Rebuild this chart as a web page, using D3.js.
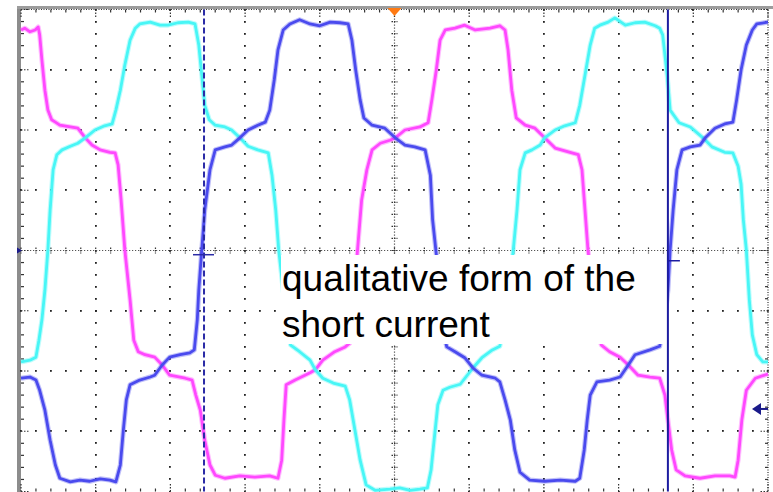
<!DOCTYPE html>
<html>
<head>
<meta charset="utf-8">
<script src="https://cdn.jsdelivr.net/npm/d3@7"></script>
<style>
  html, body { margin: 0; padding: 0; background: #fff; }
  svg { display: block; }
</style>
</head>
<body>
<div id="scope"></div>
<script>
// time in screen divisions (10 across), level in divisions (0 = centre line)
const magentaTrace = [
  [0.00,3.66],[0.05,3.69],[0.12,3.63],[0.19,3.66],[0.23,3.71],[0.25,3.58],[0.28,3.16],[0.32,2.66],[0.36,2.33],
  [0.41,2.17],[0.46,2.13],[0.52,2.08],[0.66,2.05],[0.76,2.03],[0.86,1.87],[0.95,1.75],[1.06,1.67],[1.19,1.63],
  [1.26,1.62],[1.30,1.42],[1.34,0.84],[1.39,0.01],[1.46,-0.82],[1.51,-1.49],[1.57,-1.68],[1.66,-1.73],[1.79,-1.77],
  [1.89,-1.90],[1.99,-2.07],[2.20,-2.12],[2.29,-2.15],[2.34,-2.40],[2.40,-2.65],[2.46,-3.15],[2.53,-3.56],[2.60,-3.73],
  [2.73,-3.78],[2.93,-3.74],[3.13,-3.76],[3.33,-3.74],[3.44,-3.78],[3.49,-3.48],[3.52,-2.81],[3.55,-2.23],[3.67,-2.15],
  [3.87,-2.03],[3.94,-1.98],[4.04,-1.82],[4.20,-1.68],[4.34,-1.60],[4.40,-1.54],[4.45,-0.82],[4.50,-0.07],[4.56,0.84],
  [4.63,1.34],[4.70,1.67],[4.81,1.78],[4.94,1.83],[5.01,1.87],[5.14,2.00],[5.34,2.05],[5.45,2.12],[5.50,2.50],
  [5.56,3.00],[5.61,3.49],[5.68,3.66],[5.81,3.69],[5.94,3.74],[6.08,3.66],[6.28,3.69],[6.41,3.73],[6.48,3.66],
  [6.52,3.33],[6.57,2.66],[6.63,2.20],[6.75,2.08],[6.88,2.03],[7.01,1.87],[7.15,1.70],[7.35,1.63],[7.46,1.59],
  [7.51,1.34],[7.56,0.51],[7.59,0.01],[7.65,-0.66],[7.70,-1.32],[7.77,-1.57],[7.88,-1.68],[8.02,-1.77],[8.13,-1.90],
  [8.26,-2.07],[8.42,-2.10],[8.55,-2.12],[8.62,-2.40],[8.66,-2.81],[8.71,-3.31],[8.77,-3.64],[8.89,-3.74],[9.09,-3.78],
  [9.29,-3.74],[9.49,-3.74],[9.56,-3.76],[9.60,-3.48],[9.65,-2.81],[9.71,-2.32],[9.83,-2.12],[10.00,-2.05]
];

const cyanTrace = [
  [0.00,-1.85],[0.12,-1.82],[0.20,-1.77],[0.24,-1.49],[0.28,-1.15],[0.32,-0.66],[0.36,0.01],[0.39,0.67],[0.43,1.34],
  [0.48,1.59],[0.55,1.67],[0.66,1.73],[0.76,1.78],[0.86,1.87],[0.99,2.00],[1.12,2.07],[1.22,2.10],[1.27,2.33],
  [1.33,2.66],[1.39,3.08],[1.46,3.49],[1.53,3.69],[1.59,3.76],[1.73,3.79],[1.86,3.74],[1.97,3.74],[2.10,3.78],
  [2.24,3.79],[2.33,3.76],[2.38,3.41],[2.42,2.91],[2.46,2.41],[2.52,2.17],[2.60,2.08],[2.73,2.05],[2.82,2.00],
  [2.93,1.87],[3.04,1.73],[3.17,1.67],[3.31,1.62],[3.36,1.25],[3.41,0.67],[3.45,0.01],[3.51,-0.66],[3.56,-1.32],
  [3.61,-1.57],[3.73,-1.68],[3.87,-1.82],[3.94,-1.98],[4.04,-2.12],[4.18,-2.20],[4.34,-2.25],[4.40,-2.48],[4.47,-2.98],
  [4.54,-3.48],[4.62,-3.89],[4.74,-3.98],[4.94,-3.96],[5.07,-3.94],[5.21,-3.98],[5.34,-3.96],[5.44,-3.94],[5.49,-3.64],
  [5.53,-3.15],[5.58,-2.56],[5.65,-2.32],[5.74,-2.27],[5.88,-2.22],[6.05,-1.95],[6.17,-1.78],[6.31,-1.65],[6.41,-1.59],
  [6.48,-1.15],[6.53,-0.66],[6.59,0.01],[6.64,0.67],[6.68,1.34],[6.75,1.62],[6.84,1.67],[6.95,1.75],[7.01,1.87],
  [7.15,2.00],[7.28,2.07],[7.42,2.12],[7.48,2.41],[7.55,2.91],[7.62,3.41],[7.68,3.69],[7.75,3.74],[7.86,3.79],
  [7.95,3.86],[8.09,3.74],[8.22,3.78],[8.35,3.79],[8.49,3.73],[8.55,3.69],[8.59,3.58],[8.65,2.91],[8.69,2.33],
  [8.81,2.12],[8.96,2.05],[9.13,1.87],[9.25,1.72],[9.42,1.63],[9.53,1.62],[9.60,1.40],[9.64,1.10],[9.67,0.51],
  [9.71,0.01],[9.75,-0.82],[9.79,-1.40],[9.85,-1.73],[9.93,-1.85],[10.00,-1.85]
];

const blueTrace = [
  [0.00,-2.12],[0.12,-2.10],[0.20,-2.15],[0.25,-2.32],[0.32,-2.65],[0.39,-3.15],[0.46,-3.56],[0.52,-3.78],[0.66,-3.84],
  [0.79,-3.81],[0.92,-3.83],[1.06,-3.79],[1.19,-3.81],[1.27,-3.84],[1.33,-3.56],[1.37,-2.98],[1.41,-2.48],[1.46,-2.23],
  [1.59,-2.15],[1.73,-2.10],[1.79,-2.07],[1.89,-1.90],[1.99,-1.77],[2.13,-1.73],[2.26,-1.70],[2.32,-1.65],[2.36,-1.15],
  [2.38,-0.66],[2.42,0.01],[2.46,0.67],[2.53,1.34],[2.60,1.67],[2.73,1.72],[2.82,1.75],[2.93,1.87],[3.04,2.00],
  [3.17,2.08],[3.27,2.13],[3.33,2.33],[3.39,2.83],[3.44,3.33],[3.51,3.66],[3.60,3.76],[3.73,3.83],[3.87,3.76],
  [4.00,3.73],[4.14,3.79],[4.27,3.78],[4.38,3.76],[4.43,3.49],[4.48,3.00],[4.54,2.50],[4.59,2.20],[4.70,2.08],
  [4.87,2.03],[5.01,1.87],[5.14,1.75],[5.27,1.72],[5.41,1.67],[5.48,1.25],[5.51,0.51],[5.56,-0.07],[5.61,-1.15],
  [5.70,-1.60],[5.81,-1.68],[5.94,-1.78],[6.05,-1.95],[6.17,-2.07],[6.35,-2.12],[6.41,-2.18],[6.48,-2.48],[6.55,-2.81],
  [6.61,-3.31],[6.68,-3.68],[6.81,-3.81],[7.01,-3.83],[7.22,-3.81],[7.42,-3.83],[7.48,-3.78],[7.54,-3.31],[7.58,-2.81],
  [7.62,-2.40],[7.71,-2.18],[7.88,-2.15],[8.02,-2.10],[8.13,-1.90],[8.22,-1.73],[8.42,-1.65],[8.55,-1.59],[8.62,-1.15],
  [8.66,-0.66],[8.69,0.01],[8.73,0.67],[8.78,1.34],[8.85,1.67],[8.96,1.72],[9.09,1.75],[9.16,1.87],[9.29,2.03],
  [9.42,2.10],[9.53,2.13],[9.58,2.50],[9.64,3.00],[9.71,3.41],[9.79,3.66],[9.85,3.76],[10.00,3.79]
];

const cursorTimes = [2.45, 8.66];
const cursorLevels = [-0.07, -0.17];
const triggerTime = 5.0;
const rightRefLevel = -2.63;
const leftRefLevel = 0;
const noteLines = ["qualitative form of the", "short current"];

const width = 773, height = 492;
const margins = { top: 9.5, bottom: 0.5, left: 21, right: 5 };

const xScale = d3.scaleLinear().domain([0, 10]).range([margins.left, width - margins.right]);
const yScale = d3.scaleLinear().domain([-4, 4]).range([height - margins.bottom, margins.top]);

const svg = d3.select("#scope")
  .append("svg")
  .attr("width", width)
  .attr("height", height);

// frame
svg.append("rect").attr("x", 17).attr("y", 6).attr("width", 4).attr("height", height - 6).attr("fill", "#8c8c8c");
svg.append("rect").attr("x", 17).attr("y", 6).attr("width", width - 17).attr("height", 3).attr("fill", "#9c9c9c");

const minorX = d3.range(0, 51).map(i => i / 5);
const minorY = d3.range(-20, 21).map(i => i / 5);
const gridX = d3.range(1, 10).filter(d => d !== 5);
const gridY = d3.range(-3, 4).filter(d => d !== 0);

const grid = svg.append("g").attr("fill", "#222");

// dotted grid lines
gridX.forEach(k => {
  grid.selectAll(null)
    .data(minorY)
    .join("rect")
    .attr("x", Math.round(xScale(k)) - 1)
    .attr("y", d => Math.round(yScale(d)) - 1)
    .attr("width", 1.8)
    .attr("height", 1.8);
});
gridY.forEach(k => {
  grid.selectAll(null)
    .data(minorX)
    .join("rect")
    .attr("x", d => Math.round(xScale(d)) - 1)
    .attr("y", Math.round(yScale(k)) - 1)
    .attr("width", 1.8)
    .attr("height", 1.8);
});

// centre cross with fine dots and ticks
const cx = xScale(5), cy = yScale(0);
svg.append("line")
  .attr("x1", xScale(0)).attr("x2", xScale(10)).attr("y1", cy).attr("y2", cy)
  .attr("stroke", "#555").attr("stroke-width", 1.2).attr("stroke-dasharray", "1.2,1.8");
svg.append("line")
  .attr("x1", cx).attr("x2", cx).attr("y1", yScale(4)).attr("y2", yScale(-4))
  .attr("stroke", "#555").attr("stroke-width", 1.2).attr("stroke-dasharray", "1.2,1.8");

svg.append("g").selectAll("line")
  .data(minorX)
  .join("line")
  .attr("x1", d => xScale(d)).attr("x2", d => xScale(d))
  .attr("y1", cy - 3).attr("y2", cy + 3)
  .attr("stroke", "#333").attr("stroke-width", 1.2).attr("stroke-dasharray", "1.5,1");
svg.append("g").selectAll("line")
  .data(minorY)
  .join("line")
  .attr("y1", d => yScale(d)).attr("y2", d => yScale(d))
  .attr("x1", cx - 3).attr("x2", cx + 3)
  .attr("stroke", "#333").attr("stroke-width", 1.2).attr("stroke-dasharray", "1.5,1");

// edge ticks
const edge = svg.append("g").attr("stroke", "#333").attr("stroke-width", 1.2);
edge.selectAll(".tl").data(minorY).join("line")
  .attr("x1", xScale(0)).attr("x2", d => xScale(0) + (Number.isInteger(d) ? 9 : 3))
  .attr("y1", d => yScale(d)).attr("y2", d => yScale(d))
  .attr("stroke-dasharray", d => Number.isInteger(d) ? "1.5,1.5" : null);
edge.selectAll(".tr").data(minorY).join("line")
  .attr("x1", xScale(10)).attr("x2", d => xScale(10) - (Number.isInteger(d) ? 9 : 3))
  .attr("y1", d => yScale(d)).attr("y2", d => yScale(d))
  .attr("stroke-dasharray", d => Number.isInteger(d) ? "1.5,1.5" : null);
edge.selectAll(".tt").data(minorX).join("line")
  .attr("x1", d => xScale(d)).attr("x2", d => xScale(d))
  .attr("y1", yScale(4)).attr("y2", d => yScale(4) + (Number.isInteger(d) ? 9 : 3))
  .attr("stroke-dasharray", d => Number.isInteger(d) ? "1.5,1.5" : null);
edge.selectAll(".tb").data(minorX).join("line")
  .attr("x1", d => xScale(d)).attr("x2", d => xScale(d))
  .attr("y1", yScale(-4)).attr("y2", d => yScale(-4) - (Number.isInteger(d) ? 9 : 3))
  .attr("stroke-dasharray", d => Number.isInteger(d) ? "1.5,1.5" : null);
edge.append("line")
  .attr("x1", xScale(0)).attr("x2", xScale(10)).attr("y1", yScale(4)).attr("y2", yScale(4))
  .attr("stroke-dasharray", "1,1.5");
edge.append("line")
  .attr("x1", xScale(10)).attr("x2", xScale(10)).attr("y1", yScale(4)).attr("y2", yScale(-4))
  .attr("stroke-dasharray", "1,1.5");

// traces: soft wide band under a solid core, like the noisy scope trace
const line = d3.line().x(d => xScale(d[0])).y(d => yScale(d[1]));
const traces = [
  { data: magentaTrace, color: "#ff48ff" },
  { data: cyanTrace, color: "#48f6f6" },
  { data: blueTrace, color: "#4a4aee" }
];
traces.forEach(t => {
  svg.append("path").datum(t.data)
    .attr("d", line).attr("fill", "none")
    .attr("stroke", t.color).attr("stroke-width", 5).attr("stroke-opacity", 0.35)
    .attr("stroke-linejoin", "round");
  svg.append("path").datum(t.data)
    .attr("d", line).attr("fill", "none")
    .attr("stroke", t.color).attr("stroke-width", 2.8)
    .attr("stroke-linejoin", "round");
});

// annotation box
svg.append("rect")
  .attr("x", 281).attr("y", 255).attr("width", 386).attr("height", 89)
  .attr("fill", "#fff");
svg.append("g").selectAll("text")
  .data(noteLines)
  .join("text")
  .attr("x", 282)
  .attr("y", (d, i) => 291 + i * 46)
  .attr("font-family", "'Liberation Sans', Arial, sans-serif")
  .attr("font-size", 37)
  .attr("fill", "#000")
  .text(d => d);

// cursors
svg.append("line")
  .attr("x1", xScale(cursorTimes[0])).attr("x2", xScale(cursorTimes[0]))
  .attr("y1", yScale(4)).attr("y2", yScale(-4))
  .attr("stroke", "#2b2ba6").attr("stroke-width", 2).attr("stroke-dasharray", "6,3");
svg.append("line")
  .attr("x1", xScale(cursorTimes[0]) - 11).attr("x2", xScale(cursorTimes[0]) + 10)
  .attr("y1", yScale(cursorLevels[0])).attr("y2", yScale(cursorLevels[0]))
  .attr("stroke", "#2b2ba6").attr("stroke-width", 1.5);
svg.append("line")
  .attr("x1", xScale(cursorTimes[1])).attr("x2", xScale(cursorTimes[1]))
  .attr("y1", yScale(4)).attr("y2", yScale(-4))
  .attr("stroke", "#1c1ca0").attr("stroke-width", 2);
svg.append("line")
  .attr("x1", xScale(cursorTimes[1])).attr("x2", xScale(cursorTimes[1]) + 12)
  .attr("y1", yScale(cursorLevels[1])).attr("y2", yScale(cursorLevels[1]))
  .attr("stroke", "#1c1ca0").attr("stroke-width", 1.5);

// trigger position marker
const tx = xScale(triggerTime);
svg.append("path")
  .attr("d", `M${tx - 7},8 L${tx + 7},8 L${tx},16 Z`)
  .attr("fill", "#ff7a12");

// reference markers
const ry = yScale(rightRefLevel);
svg.append("path")
  .attr("d", `M${xScale(10) - 16},${ry} L${xScale(10) - 7},${ry - 6} L${xScale(10) - 7},${ry + 6} Z`)
  .attr("fill", "#1a1a8a");
svg.append("line")
  .attr("x1", xScale(10) - 8).attr("x2", xScale(10)).attr("y1", ry).attr("y2", ry)
  .attr("stroke", "#1a1a8a").attr("stroke-width", 2);
const ly = yScale(leftRefLevel);
svg.append("path")
  .attr("d", `M17,${ly - 3} L22,${ly} L17,${ly + 3} Z`)
  .attr("fill", "#1a1a8a");
</script>
</body>
</html>
